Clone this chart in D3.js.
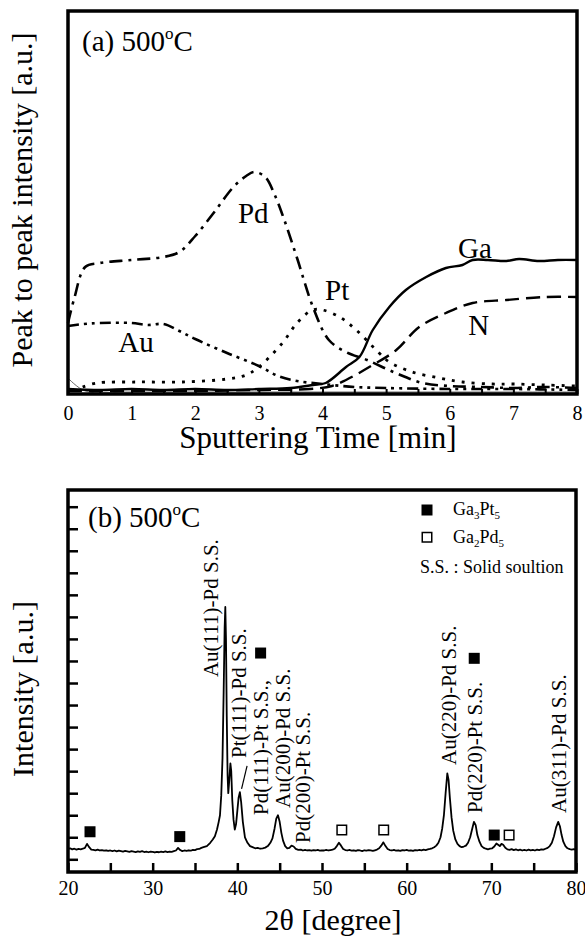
<!DOCTYPE html>
<html><head><meta charset="utf-8">
<script src="https://cdn.jsdelivr.net/npm/d3@7"></script>
<style>
body{margin:0;background:#fff}
svg{display:block}
text{font-family:"Liberation Serif","Times New Roman",Times,serif;fill:#000}
</style>
</head><body>
<svg id="chart" width="585" height="943"></svg>
<script>
// ---------------- Panel (a): AES depth profile ----------------
const timeTickValues = [0,0.5,1,1.5,2,2.5,3,3.5,4,4.5,5,5.5,6,6.5,7,7.5,8];
const timeTickLabels = [0,1,2,3,4,5,6,7,8];

const pdProfile = [[0,71],[0.1,96],[0.27,127],[0.5,131],[1,134],[1.5,137],[1.75,142],[2,158],[2.3,182],[2.6,207],[2.8,218],[2.93,222],[3.1,217],[3.25,199],[3.4,174],[3.6,136],[3.85,87],[4.1,54],[4.37,42],[4.7,34],[5.15,21],[5.57,11],[6,8],[6.5,7],[7,6],[7.5,7],[8,6]];
const auProfile = [[0,68],[0.25,70],[0.5,71],[1,71],[1.25,69],[1.5,70],[1.75,63],[2,55],[2.5,41],[3,28],[3.3,18],[3.6,13],[4,10],[4.5,7],[5,6],[6,5],[7,5],[8,4]];
const ptProfile = [[0.23,7],[0.45,11],[1.1,12],[1.8,12],[2.5,15],[2.8,19],[3,27],[3.37,51],[3.6,71],[3.84,84],[4,84],[4.27,77],[4.53,64],[4.89,41],[5.05,32],[5.41,22],[5.84,16],[6.2,12],[6.67,10],[7,10],[7.5,9],[8,8]];
const gaProfile = [[0,5],[0.5,4],[1,5],[1.5,4],[2,5],[2.5,4],[3,5],[3.5,6],[3.85,9],[4.05,11],[4.37,27],[4.58,37],[4.79,64],[5.05,87],[5.31,104],[5.63,117],[5.94,126],[6.2,129],[6.36,134],[6.6,134],[6.89,133],[7.09,135],[7.4,133],[7.7,134],[8,134]];
const nProfile = [[0,3],[1,3],[2,3],[3,4],[3.8,5],[4.15,8],[4.37,14],[4.79,29],[5.16,44],[5.52,67],[5.94,81],[6.36,91],[6.89,94],[7.5,97],[8,97]];
const otherProfile = [[0,16],[0.27,3],[1,2],[2,2],[3,2],[4,2],[5,2],[6,2],[7,2],[8,2]];

const aesLabels = [
  {text:"Pd", t:2.67, v:171},
  {text:"Au", t:0.79, v:42},
  {text:"Pt", t:4.04, v:94},
  {text:"Ga", t:6.13, v:136},
  {text:"N",  t:6.29, v:59}
];

// ---------------- Panel (b): XRD ----------------
const angleTickValues = [20,25,30,35,40,45,50,55,60,65,70,75,80];
const angleTickLabels = [20,30,40,50,60,70,80];
const intensityTicks = [0,1,2,3,4,5,6,7,8,9,10,11,12,13,14,15,16];

const xrdPattern = [
[20.00,0.47],[20.25,0.50],[20.50,0.45],[20.75,0.48],[21.00,0.44],[21.25,0.47],[21.50,0.45],[21.75,0.48],
[22.00,0.52],[22.25,0.70],[22.50,0.55],[22.75,0.44],[23.00,0.43],[23.25,0.41],[23.50,0.44],[23.75,0.40],
[24.00,0.42],[24.25,0.39],[24.50,0.41],[24.75,0.38],[25.00,0.40],[25.25,0.37],[25.50,0.40],[25.75,0.36],
[26.00,0.39],[26.25,0.37],[26.50,0.35],[26.75,0.38],[27.00,0.36],[27.25,0.34],[27.50,0.37],[27.75,0.35],
[28.00,0.33],[28.25,0.36],[28.50,0.34],[28.75,0.37],[29.00,0.33],[29.25,0.35],[29.50,0.32],[29.75,0.35],
[30.00,0.34],[30.25,0.31],[30.50,0.34],[30.75,0.32],[31.00,0.35],[31.25,0.33],[31.50,0.36],[31.75,0.33],
[32.00,0.35],[32.25,0.34],[32.50,0.37],[32.75,0.40],[33.00,0.52],[33.25,0.42],[33.50,0.37],[33.75,0.40],
[34.00,0.38],[34.25,0.41],[34.50,0.39],[34.75,0.43],[35.00,0.42],[35.25,0.46],[35.50,0.47],[35.75,0.52],
[36.00,0.55],[36.40,0.60],[36.80,0.75],[37.10,0.90],[37.35,1.05],[37.60,1.35],[37.80,1.70],[37.95,2.00],
[38.10,2.90],[38.25,4.60],[38.38,7.50],[38.50,10.5],[38.58,11.45],[38.66,10.0],[38.75,6.50],[38.85,3.80],
[38.93,3.00],[39.05,3.60],[39.18,4.35],[39.28,4.00],[39.40,2.70],[39.55,1.80],[39.70,1.35],[39.85,1.60],
[40.00,2.20],[40.15,2.80],[40.30,3.05],[40.45,2.60],[40.65,1.70],[40.90,1.00],[41.20,0.75],[41.50,0.60],
[41.80,0.55],[42.10,0.50],[42.40,0.52],[42.70,0.48],[43.00,0.50],[43.30,0.53],[43.60,0.60],[43.90,0.75],
[44.15,0.95],[44.40,1.40],[44.60,1.85],[44.80,2.00],[45.00,1.70],[45.20,1.20],[45.40,0.85],[45.65,0.60],
[45.90,0.50],[46.15,0.52],[46.40,0.62],[46.65,0.58],[46.90,0.47],[47.20,0.43],[47.50,0.44],[47.75,0.40],
[48.00,0.43],[48.25,0.40],[48.50,0.42],[48.75,0.39],[49.00,0.42],[49.25,0.40],[49.50,0.43],[49.75,0.39],
[50.00,0.41],[50.25,0.40],[50.50,0.43],[50.75,0.40],[51.00,0.42],[51.25,0.44],[51.50,0.48],[51.75,0.60],
[52.00,0.75],[52.25,0.62],[52.50,0.47],[52.75,0.42],[53.00,0.40],[53.25,0.43],[53.50,0.39],[53.75,0.41],
[54.00,0.38],[54.25,0.42],[54.50,0.40],[54.75,0.37],[55.00,0.41],[55.25,0.39],[55.50,0.42],[55.75,0.40],
[56.00,0.38],[56.25,0.41],[56.50,0.44],[56.75,0.50],[57.00,0.62],[57.25,0.77],[57.50,0.60],[57.75,0.47],
[58.00,0.42],[58.25,0.40],[58.50,0.43],[58.75,0.39],[59.00,0.41],[59.25,0.38],[59.50,0.42],[59.75,0.40],
[60.00,0.43],[60.25,0.39],[60.50,0.41],[60.75,0.38],[61.00,0.42],[61.25,0.40],[61.50,0.43],[61.75,0.41],
[62.00,0.44],[62.25,0.42],[62.50,0.45],[62.75,0.47],[63.00,0.50],[63.25,0.55],[63.50,0.62],[63.75,0.75],
[64.00,1.00],[64.20,1.40],[64.40,2.00],[64.60,3.00],[64.80,3.90],[64.95,3.60],[65.10,2.80],[65.30,1.90],
[65.50,1.30],[65.75,0.90],[66.00,0.70],[66.25,0.60],[66.50,0.55],[66.75,0.58],[67.00,0.62],[67.25,0.75],
[67.50,1.00],[67.75,1.40],[67.95,1.70],[68.15,1.55],[68.35,1.10],[68.60,0.80],[68.85,0.60],[69.10,0.52],
[69.35,0.48],[69.60,0.45],[69.85,0.48],[70.10,0.50],[70.35,0.58],[70.60,0.72],[70.80,0.66],[71.00,0.60],
[71.20,0.70],[71.40,0.66],[71.65,0.52],[71.90,0.45],[72.15,0.43],[72.40,0.46],[72.65,0.42],[72.90,0.45],
[73.15,0.41],[73.40,0.44],[73.65,0.40],[73.90,0.43],[74.15,0.40],[74.40,0.44],[74.65,0.41],[74.90,0.43],
[75.15,0.40],[75.40,0.44],[75.65,0.42],[75.90,0.45],[76.15,0.44],[76.40,0.48],[76.65,0.52],[76.90,0.60],
[77.15,0.75],[77.40,1.05],[77.65,1.45],[77.90,1.70],[78.10,1.50],[78.30,1.10],[78.50,0.80],[78.75,0.60],
[79.00,0.50],[79.25,0.46],[79.50,0.44],[79.75,0.46],[80.00,0.43]
];

const ga3pt5Marks = [[22.6,1.25],[33.2,1.03],[42.75,9.36],[67.98,9.12],[70.34,1.1]];
const ga2pd5Marks = [[52.34,1.33],[57.29,1.33],[72.1,1.1]];

const peakLabels = [
  {text:"Au(111)-Pd S.S.", angle:36.86, v:8.27},
  {text:"Pt(111)-Pd S.S.", angle:40.16, v:4.6},
  {text:"Pd(111)-Pt S.S.,", angle:42.75, v:2.01},
  {text:"Au(200)-Pd S.S.", angle:45.35, v:2.33},
  {text:"Pd(200)-Pt S.S.", angle:47.70, v:0.74},
  {text:"Au(220)-Pd S.S.", angle:64.91, v:4.28},
  {text:"Pd(220)-Pt S.S.", angle:67.98, v:2.1},
  {text:"Au(311)-Pd S.S.", angle:78.0, v:2.1}
];
const pd111Pointer = [[41.15,4.24],[40.5,3.2]];

// ---------------- drawing ----------------
const FONT = '"Liberation Serif","Times New Roman",Times,serif';
const svg = d3.select("#chart");

// ===== Panel (a)
const A = {l:68, r:577, t:11, b:394};
const xT = d3.scaleLinear().domain([0,8]).range([A.l, A.r]);
const yT = d3.scaleLinear().domain([0,383]).range([A.b, A.t]);
const gA = svg.append("g");

const lineT = d3.line().x(d=>xT(d[0])).y(d=>yT(d[1])).curve(d3.curveCatmullRom.alpha(0.5));

const seriesA = [
  {data: otherProfile, dash:null, w:0.8, c:"#444"},
  {data: nProfile, dash:"14,7", w:2.4, c:"#000"},
  {data: gaProfile, dash:null, w:2.4, c:"#000"},
  {data: ptProfile, dash:"3,7", w:2.8, c:"#000"},
  {data: auProfile, dash:"11,5,3,5,3,5", w:2.6, c:"#000"},
  {data: pdProfile, dash:"13,6,3,6", w:2.6, c:"#000"}
];
seriesA.forEach(s => {
  gA.append("path").datum(s.data).attr("d", lineT)
    .attr("fill","none").attr("stroke", s.c).attr("stroke-width", s.w)
    .attr("stroke-dasharray", s.dash).attr("stroke-linecap","butt");
});

const axT = d3.axisBottom(xT).tickValues(timeTickValues).tickSize(-5).tickPadding(12)
  .tickFormat(d => timeTickLabels.includes(d) ? String(d) : "");
const gAx = gA.append("g").attr("transform",`translate(0,${A.b})`).call(axT);
gAx.select(".domain").remove();
gAx.selectAll(".tick line").attr("stroke","#000").attr("stroke-width",2);
gAx.selectAll(".tick text").style("font-family",FONT).style("font-size","20px");

gA.append("rect").attr("x",A.l).attr("y",A.t).attr("width",A.r-A.l).attr("height",A.b-A.t)
  .attr("fill","none").attr("stroke","#000").attr("stroke-width",3.5);

aesLabels.forEach(L => {
  gA.append("text").attr("x", xT(L.t)).attr("y", yT(L.v)).attr("font-size",29).text(L.text);
});

function tempTitle(g, x, y, prefix){
  const t = g.append("text").attr("x",x).attr("y",y).attr("font-size",29);
  t.append("tspan").text(prefix + " 500");
  t.append("tspan").attr("font-size",17).attr("dy",-12).text("o");
  t.append("tspan").attr("dy",12).text("C");
}
tempTitle(gA, 82, 51, "(a)");

gA.append("text").attr("x",318).attr("y",448).attr("text-anchor","middle").attr("font-size",31)
  .text("Sputtering Time [min]");
gA.append("text").attr("transform","translate(32,200) rotate(-90)").attr("text-anchor","middle")
  .attr("font-size",30).text("Peak to peak intensity [a.u.]");

// ===== Panel (b)
const B = {l:68, r:576, t:490, b:872};
const xB = d3.scaleLinear().domain([20,80]).range([B.l, B.r]);
const yB = d3.scaleLinear().domain([-0.576,16.758]).range([B.b, B.t]);
const gB = svg.append("g");

const lineB = d3.line().x(d=>xB(d[0])).y(d=>yB(d[1]));
gB.append("path").datum(xrdPattern).attr("d", lineB).attr("fill","none")
  .attr("stroke","#000").attr("stroke-width",1.8).attr("stroke-linejoin","round");

const axB = d3.axisBottom(xB).tickValues(angleTickValues).tickSize(-9).tickPadding(9)
  .tickFormat(d => angleTickLabels.includes(d) ? String(d) : "");
const gBx = gB.append("g").attr("transform",`translate(0,${B.b})`).call(axB);
gBx.select(".domain").remove();
gBx.selectAll(".tick line").attr("stroke","#000").attr("stroke-width",2.5);
gBx.selectAll(".tick text").style("font-family",FONT).style("font-size","20px");

const ayB = d3.axisLeft(yB).tickValues(intensityTicks).tickSize(-10).tickFormat("");
const gBy = gB.append("g").attr("transform",`translate(${B.l},0)`).call(ayB);
gBy.select(".domain").remove();
gBy.selectAll(".tick line").attr("stroke","#000").attr("stroke-width",2.5);

gB.append("rect").attr("x",B.l).attr("y",B.t).attr("width",B.r-B.l).attr("height",B.b-B.t)
  .attr("fill","none").attr("stroke","#000").attr("stroke-width",3.5);

const sq = 11;
gB.selectAll(".fsq").data(ga3pt5Marks).join("rect")
  .attr("x",d=>xB(d[0])-sq/2).attr("y",d=>yB(d[1])-sq/2).attr("width",sq).attr("height",sq)
  .attr("fill","#000");
gB.selectAll(".hsq").data(ga2pd5Marks).join("rect")
  .attr("x",d=>xB(d[0])-sq/2+0.75).attr("y",d=>yB(d[1])-sq/2+0.75).attr("width",sq-1.5).attr("height",sq-1.5)
  .attr("fill","#fff").attr("stroke","#000").attr("stroke-width",1.5);

peakLabels.forEach(L => {
  gB.append("text")
    .attr("transform",`translate(${xB(L.angle)},${yB(L.v)}) rotate(-90)`)
    .attr("dy","0.35em").attr("font-size",21).text(L.text);
});
gB.append("line")
  .attr("x1",xB(pd111Pointer[0][0])).attr("y1",yB(pd111Pointer[0][1]))
  .attr("x2",xB(pd111Pointer[1][0])).attr("y2",yB(pd111Pointer[1][1]))
  .attr("stroke","#000").attr("stroke-width",1.2);

tempTitle(gB, 88, 527, "(b)");

// legend
const lg = gB.append("g");
lg.append("rect").attr("x",421.5).attr("y",504.5).attr("width",11).attr("height",11).attr("fill","#000");
lg.append("rect").attr("x",422.25).attr("y",532.5).attr("width",9.5).attr("height",9.5)
  .attr("fill","#fff").attr("stroke","#000").attr("stroke-width",1.5);
function formula(g, x, y, parts){
  const t = g.append("text").attr("x",x).attr("y",y).attr("font-size",18);
  let sub = false;
  parts.forEach(p => {
    if (p.sub) { t.append("tspan").attr("font-size",11).attr("dy", sub?0:4).text(p.s); sub = true; }
    else { t.append("tspan").attr("dy", sub?-4:0).text(p.s); sub = false; }
  });
}
formula(lg, 453, 515, [{s:"Ga"},{s:"3",sub:true},{s:"Pt"},{s:"5",sub:true}]);
formula(lg, 453, 543, [{s:"Ga"},{s:"2",sub:true},{s:"Pd"},{s:"5",sub:true}]);
lg.append("text").attr("x",420).attr("y",573).attr("font-size",18).text("S.S. : Solid soultion");

gB.append("text").attr("x",333).attr("y",930).attr("text-anchor","middle").attr("font-size",30)
  .text("2θ [degree]");
gB.append("text").attr("transform","translate(33,689) rotate(-90)").attr("text-anchor","middle")
  .attr("font-size",30).text("Intensity [a.u.]");
</script>
</body></html>
